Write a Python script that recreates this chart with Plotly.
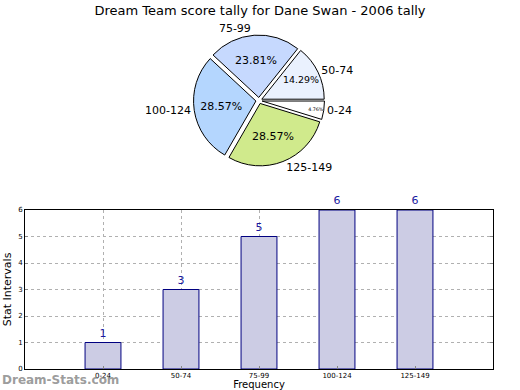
import plotly.graph_objects as go

categories = ["0-24", "50-74", "75-99", "100-124", "125-149"]
counts = [1, 3, 5, 6, 6]
pie_colors = ["#ffffff", "#eaf1fe", "#c6d9fe", "#b4d6fe", "#d0ea8c"]
y_ticks = [0, 1, 2, 3, 4, 5, 6]

title_text = "Dream Team score tally for Dane Swan - 2006 tally"
font_family = "DejaVu Sans"

fig = go.Figure()

pie_domain = dict(x=[0.0, 1.0], y=[0.55, 0.905])

# pie with percentages inside
fig.add_trace(go.Pie(
    labels=categories, values=counts, sort=False,
    direction="counterclockwise", rotation=90,
    marker=dict(colors=pie_colors, line=dict(color="#000000", width=1)),
    pull=[0.05] * len(counts),
    texttemplate="%{percent:.2%}", textposition="inside",
    insidetextorientation="horizontal",
    textfont=dict(family=font_family, size=11, color="#000000"),
    domain=pie_domain, showlegend=False, hoverinfo="label+value+percent",
))
# transparent overlay pie carrying outside category labels
fig.add_trace(go.Pie(
    labels=categories, values=counts, sort=False,
    direction="counterclockwise", rotation=90,
    marker=dict(colors=["rgba(0,0,0,0)"] * len(counts), line=dict(width=0)),
    pull=[0.05] * len(counts),
    texttemplate="%{label}", textposition="outside",
    textfont=dict(family=font_family, size=11, color="#000000"),
    outsidetextfont=dict(family=font_family, size=11, color="#000000"),
    domain=pie_domain, showlegend=False, hoverinfo="skip",
))

fig.add_trace(go.Bar(
    x=categories, y=counts, width=0.46,
    marker=dict(color="#ccccE4", line=dict(color="#000080", width=1)),
    text=[str(c) for c in counts], textposition="outside",
    textfont=dict(family=font_family, size=11, color="#1a1aa0"),
    cliponaxis=False, showlegend=False,
))

fig.update_layout(
    width=520, height=390,
    margin=dict(l=25, r=27, t=0, b=21, autoexpand=False),
    paper_bgcolor="#ffffff", plot_bgcolor="#ffffff",
    font=dict(family=font_family, color="#000000"),
    title=dict(text=title_text, x=0.5, xanchor="center", y=0.984, yanchor="top",
               font=dict(family=font_family, size=13, color="#000000")),
    xaxis=dict(
        domain=[0, 1], type="category", range=[-1, 5], automargin=False,
        showline=True, linecolor="#000000", linewidth=1, mirror=True,
        showgrid=True, gridcolor="#b0b0b0", griddash="dot", gridwidth=1,
        ticks="inside", ticklen=3, tickcolor="#888888",
        tickfont=dict(family=font_family, size=7, color="#000000"),
        title=dict(text="Frequency", font=dict(family=font_family, size=10), standoff=6),
        fixedrange=True, zeroline=False,
    ),
    yaxis=dict(
        domain=[0, 159 / 369], range=[0, 6], tickvals=y_ticks, automargin=False,
        showline=True, linecolor="#000000", linewidth=1, mirror="ticks",
        showgrid=True, gridcolor="#b0b0b0", griddash="dot", gridwidth=1,
        ticks="inside", ticklen=3, tickcolor="#888888",
        tickfont=dict(family=font_family, size=7, color="#000000"),
        title=dict(text="Stat Intervals", font=dict(family=font_family, size=11), standoff=4),
        zeroline=False, fixedrange=True,
    ),
    annotations=[dict(
        text="<b>Dream-Stats.com</b>", xref="paper", yref="paper",
        x=-25 / 468, y=-11 / 369, xanchor="left", yanchor="middle", showarrow=False,
        font=dict(family=font_family, size=12, color="rgba(130,130,130,0.8)"),
    )],
)

fig.write_html("out.html", config={"displayModeBar": False},
               post_script="document.body.style.margin='0';")
